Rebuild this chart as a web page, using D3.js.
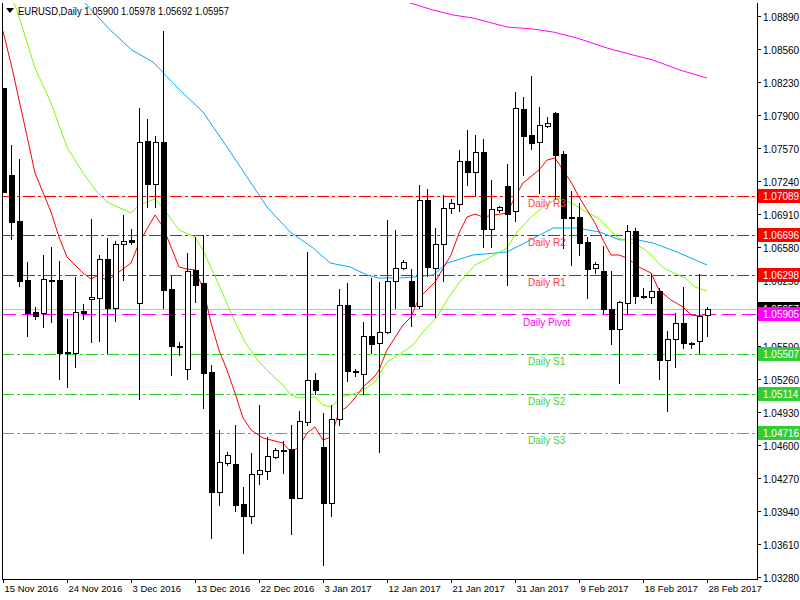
<!DOCTYPE html>
<html><head><meta charset="utf-8">
<script src="https://cdn.jsdelivr.net/npm/d3@7"></script>
<style>body{margin:0;background:#fff}svg{display:block}text{font-family:"Liberation Sans",Arial,sans-serif}</style>
</head><body><div id="viz"></div>
<script>
// OHLC per daily bar
var opens  = [1.0817,1.0730,1.0684,1.0625,1.0593,1.0592,1.0625,1.0625,1.0553,1.0552,1.0594,1.0606,1.0607,1.0646,1.0597,1.0661,1.0665,1.0602,1.0764,1.0721,1.0763,1.0616,1.0559,1.0536,1.0635,1.0622,1.0533,1.0413,1.0442,1.0441,1.0401,1.0389,1.0431,1.0434,1.0448,1.0455,1.0456,1.0407,1.0483,1.0525,1.0458,1.0402,1.0486,1.0600,1.0534,1.0531,1.0569,1.0562,1.0573,1.0624,1.0637,1.0624,1.0599,1.0705,1.0637,1.0661,1.0697,1.0701,1.0744,1.0733,1.0753,1.0676,1.0695,1.0719,1.0694,1.0796,1.0770,1.0763,1.0779,1.0792,1.0751,1.0688,1.0688,1.0663,1.0637,1.0634,1.0596,1.0576,1.0602,1.0674,1.0609,1.0608,1.0614,1.0545,1.0566,1.0582,1.0562,1.0564,1.0590];
var highs  = [1.0817,1.0760,1.0746,1.0643,1.0598,1.0650,1.0658,1.0644,1.0586,1.0628,1.0601,1.0686,1.0650,1.0667,1.0664,1.0690,1.0676,1.0797,1.0786,1.0769,1.0874,1.0629,1.0563,1.0652,1.0668,1.0670,1.0540,1.0475,1.0453,1.0480,1.0418,1.0452,1.0500,1.0468,1.0457,1.0464,1.0480,1.0494,1.0653,1.0532,1.0492,1.0500,1.0616,1.0622,1.0536,1.0583,1.0627,1.0623,1.0685,1.0675,1.0645,1.0636,1.0720,1.0716,1.0677,1.0710,1.0706,1.0755,1.0775,1.0770,1.0766,1.0725,1.0699,1.0741,1.0813,1.0808,1.0829,1.0798,1.0788,1.0793,1.0754,1.0714,1.0702,1.0668,1.0643,1.0659,1.0634,1.0604,1.0680,1.0677,1.0617,1.0631,1.0617,1.0574,1.0592,1.0618,1.0563,1.0631,1.05978];
var lows   = [1.0713,1.0666,1.0619,1.0569,1.0586,1.0578,1.0583,1.0526,1.0518,1.0538,1.0586,1.0563,1.0564,1.0552,1.0584,1.0625,1.0661,1.0506,1.0698,1.0698,1.0597,1.0530,1.0550,1.0526,1.0603,1.0497,1.0367,1.0400,1.0440,1.0394,1.0352,1.0382,1.0421,1.0426,1.0447,1.0432,1.0371,1.0407,1.0480,1.0511,1.0340,1.0389,1.0480,1.0524,1.0529,1.0511,1.0552,1.0453,1.0572,1.0597,1.0636,1.0579,1.0597,1.0629,1.0588,1.0624,1.0692,1.0694,1.0720,1.0710,1.0658,1.0658,1.0693,1.0620,1.0684,1.0730,1.0756,1.0712,1.0778,1.0707,1.0657,1.0640,1.0650,1.0607,1.0632,1.0592,1.0561,1.0522,1.0591,1.0602,1.0607,1.0602,1.0526,1.0494,1.0538,1.0557,1.0557,1.0552,1.05692];
var closes = [1.0713,1.0683,1.0624,1.0592,1.0589,1.0626,1.0625,1.0552,1.0553,1.0593,1.0592,1.0608,1.0646,1.0597,1.0661,1.0664,1.0663,1.0763,1.0721,1.0763,1.0615,1.0559,1.0559,1.0634,1.0620,1.0532,1.0413,1.0443,1.0450,1.0400,1.0389,1.0431,1.0435,1.0449,1.0455,1.0455,1.0407,1.0484,1.0525,1.0515,1.0402,1.0486,1.0600,1.0534,1.0534,1.0569,1.0561,1.0573,1.0624,1.0637,1.0643,1.0599,1.0705,1.0638,1.0661,1.0697,1.0702,1.0744,1.0733,1.0753,1.0676,1.0696,1.0698,1.0691,1.0797,1.0769,1.0762,1.0780,1.0782,1.0750,1.0687,1.0688,1.0662,1.0636,1.0641,1.0596,1.0576,1.0603,1.0674,1.0609,1.0609,1.0614,1.0545,1.0566,1.0582,1.0562,1.0562,1.0589,1.05957];

// moving averages as [bar index, value]
var maFast = [[0,1.0874],[1.1,1.0838],[2.75,1.0778],[4,1.0732],[6,1.0693],[7,1.0668],[8,1.0648],[10,1.0632],[11,1.0626],[12,1.0630],[13,1.0624],[14,1.0630],[16,1.0642],[17,1.0662],[19,1.0690],[20,1.0678],[21,1.0658],[22,1.0638],[23,1.0636],[24,1.0635],[25,1.0617],[26,1.0582],[27,1.0555],[28,1.0535],[29,1.0512],[30,1.0487],[31,1.0475],[32.5,1.0467],[34,1.0464],[35,1.0462],[36,1.0453],[37,1.0458],[38,1.0472],[39,1.0478],[40,1.0465],[41,1.0468],[42,1.0493],[43,1.0498],[44,1.0507],[45,1.0518],[46.5,1.0529],[47,1.0535],[48,1.0555],[50,1.0580],[51,1.0588],[52,1.0607],[54,1.0623],[56,1.0650],[57,1.0672],[58,1.0688],[59,1.0691],[60,1.0688],[63,1.0692],[64,1.0708],[65,1.0722],[67,1.0735],[68,1.0745],[69,1.0747],[70,1.0735],[71,1.0723],[72,1.0708],[73,1.0695],[74,1.0682],[75,1.0665],[76,1.0650],[77,1.0650],[78,1.0647],[79.5,1.0638],[81,1.0632],[82,1.0615],[83.5,1.0605],[85,1.0598],[86,1.0590],[87,1.0589],[88,1.0591]];
var maMid = [[0,1.0925],[1.75,1.0895],[4,1.0837],[6,1.0802],[8,1.0758],[10,1.0732],[11.75,1.0713],[13,1.0703],[16,1.0692],[17,1.0700],[19,1.0706],[20,1.0697],[22,1.0675],[24,1.0668],[25,1.0655],[27,1.0620],[28.6,1.0590],[30.25,1.0563],[32,1.0543],[33.6,1.0530],[35,1.0520],[36,1.0510],[37,1.0507],[39,1.0508],[40,1.0500],[41,1.0498],[42.4,1.0508],[44.6,1.0513],[46.5,1.0523],[48,1.0543],[50,1.0553],[51.25,1.0560],[52.4,1.0572],[54.25,1.0588],[55.5,1.0605],[57,1.0622],[59,1.0640],[60.25,1.0645],[63,1.0657],[64.25,1.0673],[65.9,1.0687],[67.5,1.0698],[69.4,1.0707],[71.1,1.0702],[73.1,1.0692],[74.4,1.0687],[75.6,1.0677],[76.9,1.0667],[78.6,1.0662],[80,1.0657],[81,1.0650],[82.4,1.0638],[83.6,1.0633],[85.25,1.0627],[86.5,1.0618],[88,1.0614]];
var maSlow = [[8.4,1.0915],[10.25,1.0902],[13.4,1.0875],[16.1,1.0855],[18.75,1.0843],[22.1,1.0815],[25,1.0793],[28,1.0758],[30.5,1.0728],[33,1.0698],[35.9,1.0673],[38.75,1.0657],[40.9,1.0642],[43.4,1.0638],[45.5,1.0630],[46.9,1.0627],[49.6,1.0627],[51.25,1.0628],[53.75,1.0630],[55.5,1.0642],[58.75,1.0650],[63,1.0653],[65.9,1.0665],[68.75,1.0677],[71.75,1.0677],[74.6,1.0673],[77.1,1.0665],[78.75,1.0666],[81.25,1.0662],[84.25,1.0653],[88,1.0640]];
var maLong = [[47.1,1.0910],[50.9,1.0902],[53.75,1.0895],[56.25,1.0890],[58.75,1.0887],[63,1.0878],[66.25,1.0876],[68.75,1.0873],[71.75,1.0867],[75.5,1.0857],[78.75,1.0850],[81.25,1.0845],[84.6,1.0835],[88,1.0827]];

var pivotNames = ["Daily R3","Daily R2","Daily R1","Daily Pivot","Daily S1","Daily S2","Daily S3"];
var pivotValues = [1.07089,1.06696,1.06298,1.05905,1.05507,1.05114,1.04716];
var priceTicks = [1.08890,1.08560,1.08230,1.07900,1.07570,1.07240,1.06910,1.06580,1.06250,1.05920,1.05590,1.05260,1.04930,1.04600,1.04270,1.03940,1.03610,1.03280];
var dateIdx = [0,8,16,24,32,40,48,56,64,72,80,88];
var dateLabels = ["15 Nov 2016","24 Nov 2016","3 Dec 2016","13 Dec 2016","22 Dec 2016","3 Jan 2017","12 Jan 2017","21 Jan 2017","31 Jan 2017","9 Feb 2017","18 Feb 2017","28 Feb 2017"];
var lastPrice = 1.05957;

var W = 800, H = 600, padL = 2, padR = 757, padT = 3, padB = 579;
var svg = d3.select("#viz").append("svg").attr("width", W).attr("height", H);
var x = d3.scaleLinear().domain([0, 88]).range([3, 707]);
var y = d3.scaleLinear().domain([1.0328, 1.0889]).range([577, 16]);

svg.append("clipPath").attr("id", "plotclip").append("rect")
    .attr("x", padL + 1).attr("y", padT).attr("width", padR - padL - 1).attr("height", padB - padT);
var g = svg.append("g").attr("clip-path", "url(#plotclip)");

// current price line
g.append("line").attr("x1", padL).attr("x2", padR)
    .attr("y1", Math.round(y(lastPrice)) + 0.5).attr("y2", Math.round(y(lastPrice)) + 0.5)
    .style("stroke", "#c0c0c0");

// pivot lines
function pivotColor(i){ return i < 3 ? "#ff0000" : (i == 3 ? "#ff00ff" : "#32cd32"); }
var labelColor = function(i){ return i < 3 ? "#ff3c3c" : (i == 3 ? "#ff00ff" : "#4ccd3c"); };
pivotValues.forEach(function(v, i){
    var yy = Math.round(y(v)) + 0.5;
    g.append("line").attr("x1", padL).attr("x2", padR).attr("y1", yy).attr("y2", yy)
        .style("stroke", pivotColor(i))
        .style("stroke-dasharray", i == 3 ? "14,6" : "12,3,3,3");
});

var line = d3.line().x(function(d){ return x(d[0]); }).y(function(d){ return y(d[1]); });
[[maLong, "#ff00ff"], [maSlow, "#00aaff"], [maMid, "#7cfc00"], [maFast, "#ff0000"]].forEach(function(m){
    g.append("path").datum(m[0]).attr("d", line)
        .style("fill", "none").style("stroke", m[1]).style("stroke-width", 1);
});

// candles
var bars = g.selectAll("g.bar").data(opens.map(function(o, i){
    return {i: i, o: o, h: highs[i], l: lows[i], c: closes[i]};
})).enter().append("g");
bars.append("line")
    .attr("x1", function(d){ return x(d.i) + 0.5; }).attr("x2", function(d){ return x(d.i) + 0.5; })
    .attr("y1", function(d){ return Math.round(y(d.h)); }).attr("y2", function(d){ return Math.round(y(d.l)) + 1; })
    .style("stroke", "#000");
bars.append("rect")
    .attr("x", function(d){ return x(d.i) - 2 + 0.5; })
    .attr("y", function(d){ return Math.round(y(Math.max(d.o, d.c))) + 0.5; })
    .attr("width", 5)
    .attr("height", function(d){ return Math.max(1, Math.round(y(Math.min(d.o, d.c))) - Math.round(y(Math.max(d.o, d.c)))); })
    .style("fill", function(d){ return d.c >= d.o ? "#fff" : "#000"; })
    .style("stroke", "#000");

// pivot text labels
pivotValues.forEach(function(v, i){
    g.append("text").attr("x", i == 3 ? 523 : 528).attr("y", y(v) + 11)
        .style("font-size", "10px").style("fill", labelColor(i)).text(pivotNames[i]);
});

// frame
svg.append("line").attr("x1", padL + 0.5).attr("x2", padL + 0.5).attr("y1", padT).attr("y2", padB).style("stroke", "#000");
svg.append("line").attr("x1", padR + 0.5).attr("x2", padR + 0.5).attr("y1", padT).attr("y2", padB + 1).style("stroke", "#000");
svg.append("line").attr("x1", padL).attr("x2", padR + 1).attr("y1", padB + 0.5).attr("y2", padB + 0.5).style("stroke", "#000");

// price axis
priceTicks.forEach(function(p){
    var yy = Math.round(y(p)) + 0.5;
    svg.append("line").attr("x1", padR).attr("x2", padR + 4).attr("y1", yy).attr("y2", yy).style("stroke", "#000");
    svg.append("text").attr("x", 763).attr("y", yy + 4).style("font-size", "10px").text(p.toFixed(5));
});

// price boxes
function tag(v, bg){
    var yy = Math.round(y(v));
    svg.append("rect").attr("x", padR + 1).attr("y", yy - 7).attr("width", 43).attr("height", 14).style("fill", bg);
    svg.append("text").attr("x", 763).attr("y", yy + 4).style("font-size", "10px").style("fill", "#fff").text(v.toFixed(5));
}
tag(lastPrice, "#000");
pivotValues.forEach(function(v, i){ tag(v, i < 3 ? "#ff0000" : (i == 3 ? "#ff00ff" : "#32cd32")); });

// date axis
dateIdx.forEach(function(d, k){
    var xx = Math.round(x(d)) + 0.5;
    svg.append("line").attr("x1", xx).attr("x2", xx).attr("y1", padB).attr("y2", padB + 4).style("stroke", "#000");
    svg.append("text").attr("x", xx + 1).attr("y", 592).style("font-size", "9.5px").text(dateLabels[k]);
});

// header
svg.append("path").attr("d", "M6,8 L14,8 L10,13 Z").style("fill", "#000");
svg.append("text").attr("x", 18).attr("y", 15).style("font-size", "11px")
    .attr("textLength", 211).attr("lengthAdjust", "spacingAndGlyphs")
    .text("EURUSD,Daily  1.05900 1.05978 1.05692 1.05957");
</script>
</body></html>
